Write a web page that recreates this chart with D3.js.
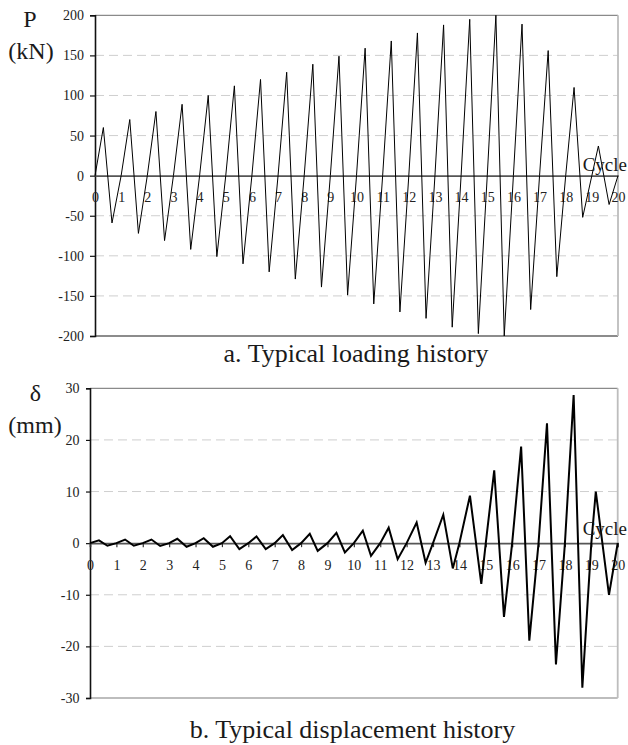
<!DOCTYPE html>
<html>
<head>
<meta charset="utf-8">
<script src="https://cdn.jsdelivr.net/npm/d3@7"></script>
<style>
  html, body { margin: 0; padding: 0; background: #fff; }
  svg { display: block; }
</style>
</head>
<body>
<svg id="chart" width="628" height="745"></svg>
<script>
// ---------- data ----------
const cycleTicks = d3.range(0, 21);

// a. Typical loading history (kN)
const loadTicks = [-200, -150, -100, -50, 0, 50, 100, 150, 200];
const loadPeak   = [60, 70, 80, 89, 100, 112, 120, 129, 139, 149, 159, 168, 178, 188, 195, 200, 189, 156, 110, 37];
const loadTrough = [-59, -72, -81, -92, -101, -110, -120, -129, -139, -149, -160, -170, -178, -189, -197, -200, -167, -126, -52, -36];
const loadPeakAt   = [0.32, 1.33, 2.33, 3.33, 4.33, 5.33, 6.33, 7.33, 8.33, 9.33, 10.33, 11.33, 12.33, 13.33, 14.33, 15.33, 16.33, 17.33, 18.32, 19.25];
const loadTroughAt = [0.65, 1.66, 2.66, 3.66, 4.66, 5.66, 6.66, 7.66, 8.66, 9.66, 10.66, 11.66, 12.66, 13.66, 14.66, 15.65, 16.66, 17.66, 18.65, 19.66];

// b. Typical displacement history (mm)
const dispTicks = [-30, -20, -10, 0, 10, 20, 30];
const dispPeak   = [0.55, 0.7, 0.7, 0.85, 0.95, 1.35, 1.3, 1.55, 1.8, 2.0, 2.4, 3.0, 4.0, 5.5, 9.2, 14.1, 18.7, 23.2, 28.7, 10.0];
const dispTrough = [-0.5, -0.5, -0.55, -0.7, -0.7, -1.15, -1.15, -1.35, -1.5, -1.8, -2.45, -3.1, -3.8, -4.9, -7.9, -14.3, -18.9, -23.5, -28.0, -10.0];
const dispPeakAt   = [0.34, 1.33, 2.33, 3.31, 4.31, 5.31, 6.31, 7.31, 8.33, 9.34, 10.34, 11.32, 12.38, 13.39, 14.40, 15.32, 16.34, 17.32, 18.33, 19.17];
const dispTroughAt = [0.66, 1.66, 2.66, 3.66, 4.66, 5.66, 6.66, 7.66, 8.63, 9.66, 10.65, 11.66, 12.72, 13.75, 14.83, 15.69, 16.65, 17.66, 18.66, 19.67];

const SERIF = "'Liberation Serif', serif";
const fmt = d => String(d); // plain hyphen-minus like the original

function buildSeries(peak, trough, peakAt, troughAt) {
  const pts = [];
  peak.forEach((p, i) => {
    pts.push([i, 0]);
    pts.push([peakAt[i], p]);
    pts.push([troughAt[i], trough[i]]);
  });
  pts.push([20, 0]);
  return pts;
}

const svg = d3.select("#chart");

function txt(g, x, y, size, anchor, s) {
  return g.append("text").attr("x", x).attr("y", y)
    .attr("text-anchor", anchor)
    .style("font-family", SERIF).style("font-size", size + "px")
    .style("fill", "#1a1a1a").text(s);
}

function drawPanel(cfg) {
  const x = d3.scaleLinear().domain([0, 20]).range([cfg.left, cfg.right]);
  const y = d3.scaleLinear().domain(cfg.domain).range([cfg.bottom, cfg.top]);
  const g = svg.append("g");

  // dashed gridlines
  g.selectAll(".grid").data(cfg.ticks.filter(t => t !== 0 && t !== cfg.domain[0] && t !== cfg.domain[1]))
    .enter().append("line")
    .attr("x1", cfg.left).attr("x2", cfg.right)
    .attr("y1", d => y(d)).attr("y2", d => y(d))
    .attr("stroke", "#cfcfcf").attr("stroke-width", 1)
    .attr("stroke-dasharray", "9,5");

  // frame
  g.append("line").attr("x1", cfg.left).attr("x2", cfg.right)
    .attr("y1", y(cfg.domain[1])).attr("y2", y(cfg.domain[1]))
    .attr("stroke", "#8a8a8a").attr("stroke-width", 1.2);
  g.append("line").attr("x1", cfg.left).attr("x2", cfg.right)
    .attr("y1", y(cfg.domain[0])).attr("y2", y(cfg.domain[0]))
    .attr("stroke", cfg.bottomColor).attr("stroke-width", 1.8);
  g.append("line").attr("x1", cfg.right).attr("x2", cfg.right)
    .attr("y1", y(cfg.domain[1])).attr("y2", y(cfg.domain[0]))
    .attr("stroke", "#bdbdbd").attr("stroke-width", 1.8);

  // y axis
  const yAxis = d3.axisLeft(y).tickValues(cfg.ticks).tickSize(cfg.yTick).tickPadding(cfg.yPad)
    .tickFormat(fmt);
  const ya = g.append("g").attr("transform", `translate(${cfg.left},0)`).call(yAxis)
    .attr("font-family", "Liberation Serif").attr("font-size", 14);
  ya.select(".domain").attr("stroke", "#111").attr("stroke-width", 1.6);
  ya.selectAll(".tick line").attr("stroke", "#111").attr("stroke-width", 1.2);
  ya.selectAll(".tick text").style("font-family", SERIF).style("font-size", "14px").style("fill", "#222");

  // x axis on zero line
  const xAxis = d3.axisBottom(x).tickValues(cycleTicks).tickSize(cfg.xTick).tickPadding(cfg.xPad)
    .tickFormat(fmt);
  const xa = g.append("g").attr("transform", `translate(0,${y(0)})`).call(xAxis)
    .attr("font-family", "Liberation Serif").attr("font-size", 14);
  xa.select(".domain").attr("stroke", "#555").attr("stroke-width", 1.6);
  xa.selectAll(".tick line").attr("stroke", "#333").attr("stroke-width", 1.2);
  xa.selectAll(".tick text").style("font-family", SERIF).style("font-size", "14px").style("fill", "#222");

  // series
  const line = d3.line().x(d => x(d[0])).y(d => y(d[1]));
  g.append("path").datum(cfg.series)
    .attr("d", line).attr("fill", "none")
    .attr("stroke", "#000").attr("stroke-width", cfg.lineWidth)
    .attr("stroke-linejoin", "miter");

  // labels
  txt(g, 627, y(0) - cfg.cycleDy, 19, "end", "Cycle");
  txt(g, cfg.symX, cfg.symY, 24, "middle", cfg.sym);
  txt(g, cfg.unitX, cfg.unitY, 24, "middle", cfg.unit);
  txt(g, cfg.titleX, cfg.titleY, 26, "middle", cfg.title);
}

drawPanel({
  left: 95, right: 618, top: 15.3, bottom: 336,
  domain: [-200, 200], ticks: loadTicks,
  series: buildSeries(loadPeak, loadTrough, loadPeakAt, loadTroughAt),
  yTick: 5, yPad: 6, xTick: 0, xPad: 16.5,
  bottomColor: "#8c8c8c", lineWidth: 1,
  cycleDy: 5,
  sym: "P", symX: 30, symY: 26.5,
  unit: "(kN)", unitX: 31, unitY: 58.5,
  title: "a. Typical loading history", titleX: 356, titleY: 362
});

drawPanel({
  left: 90, right: 617.7, top: 388.3, bottom: 698,
  domain: [-30, 30], ticks: dispTicks,
  series: buildSeries(dispPeak, dispTrough, dispPeakAt, dispTroughAt),
  yTick: 4, yPad: 6.5, xTick: 4, xPad: 13,
  bottomColor: "#bdbdbd", lineWidth: 2,
  cycleDy: 8,
  sym: "δ", symX: 35.5, symY: 400.5,
  unit: "(mm)", unitX: 35, unitY: 433,
  title: "b. Typical displacement history", titleX: 352.5, titleY: 738
});
</script>
</body>
</html>
